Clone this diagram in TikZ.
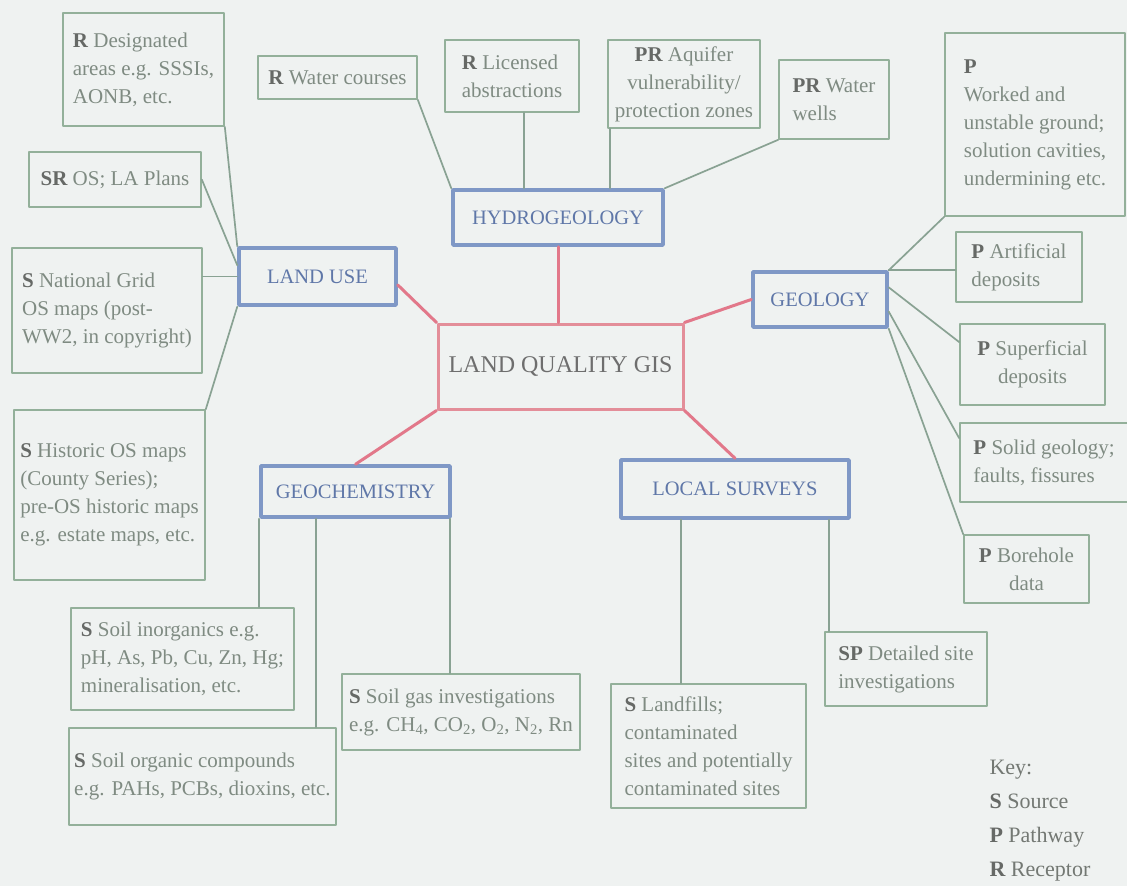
\documentclass[tikz,border=0pt]{standalone}
\usepackage{fontspec}
\setmainfont{Liberation Serif}

\definecolor{bgcol}{HTML}{EFF2F1}
\definecolor{leafline}{HTML}{93B09A}
\definecolor{twigcol}{HTML}{89A293}
\definecolor{leaftext}{HTML}{7F8B82}
\definecolor{boldtext}{HTML}{666966}
\definecolor{hubline}{HTML}{7F98C6}
\definecolor{hubtext}{HTML}{5F77A8}
\definecolor{trunkcol}{HTML}{E2788A}
\definecolor{coreline}{HTML}{E38E99}
\definecolor{coretext}{HTML}{6E6E6E}
\definecolor{keycol}{HTML}{737873}

\newcommand{\kind}[1]{\textbf{\color{boldtext}#1}}

\begin{document}
\begin{tikzpicture}[x=1pt, y=-1pt, line cap=round, line join=round,
  leaf/.style={draw=leafline, line width=1.6pt, fill=bgcol, text=leaftext,
    align=left, inner sep=4pt, font=\fontsize{21}{28}\selectfont},
  hub/.style={draw=hubline, line width=3.5pt, fill=bgcol, text=hubtext,
    font=\fontsize{20.5}{24}\selectfont},
  core/.style={draw=coreline, line width=3pt, fill=bgcol, text=coretext,
    font=\fontsize{24}{28}\selectfont},
  twig/.style={draw=twigcol, line width=1.7pt},
  trunk/.style={draw=trunkcol, line width=3pt}]

% === Page ===
\fill[bgcol] (0,0) rectangle (1127,886);
\useasboundingbox (0,0) rectangle (1127,886);

% === Centre and hubs ===
\node[core, minimum width=245pt, minimum height=85pt] (lq) at (560.5,366.5) {LAND QUALITY GIS};
\node[hub, minimum width=210pt, minimum height=55pt] (hydro) at (558,217.5) {HYDROGEOLOGY};
\node[hub, minimum width=157pt, minimum height=57pt] (landuse) at (317.5,276.5) {LAND USE};
\node[hub, minimum width=134pt, minimum height=55pt] (geology) at (820,299.5) {GEOLOGY};
\node[hub, minimum width=189pt, minimum height=51pt] (geochem) at (355.5,491.5) {GEOCHEMISTRY};
\node[hub, minimum width=228pt, minimum height=58pt] (local) at (735,489) {LOCAL SURVEYS};

% === Land use leaves ===
\node[leaf, minimum width=161pt, minimum height=113pt] (desig) at (143.5,69.5)
  {\kind{R} Designated\\areas e.g. SSSIs,\\AONB, etc.};
\node[leaf, minimum width=172pt, minimum height=55pt] (sr) at (115,179.5) {\kind{SR} OS; LA Plans};
\node[leaf, minimum width=190pt, minimum height=125pt] (natgrid) at (107,310.5)
  {\kind{S} National Grid\\OS maps (post-\\WW2, in copyright)};
\node[leaf, minimum width=191pt, minimum height=170pt] (historic) at (109.5,495)
  {\kind{S} Historic OS maps\\(County Series);\\pre-OS historic maps\\e.g. estate maps, etc.};

% === Hydrogeology leaves ===
\node[leaf, minimum width=159pt, minimum height=43pt] (water) at (337.5,77.5) {\kind{R} Water courses};
\node[leaf, minimum width=134pt, minimum height=72pt] (licensed) at (512,76) {\kind{R} Licensed\\abstractions};
\node[leaf, align=center, minimum width=152pt, minimum height=88pt] (aquifer) at (684,84)
  {\kind{PR} Aquifer\\vulnerability/\\protection zones};
\node[leaf, minimum width=110pt, minimum height=79pt] (wells) at (834,99.5) {\kind{PR} Water\\wells};

% === Geology leaves ===
\node[leaf, minimum width=180pt, minimum height=183pt] (worked) at (1035,124.5)
  {\kind{P}\\Worked and\\unstable ground;\\solution cavities,\\undermining etc.};
\node[leaf, minimum width=126pt, minimum height=70pt] (artificial) at (1019,267) {\kind{P} Artificial\\deposits};
\node[leaf, align=center, minimum width=145pt, minimum height=81pt] (superficial) at (1032.5,364.5)
  {\kind{P} Superficial\\deposits};
\node[leaf, minimum width=168pt, minimum height=79pt] (solid) at (1044,462.5) {\kind{P} Solid geology;\\faults, fissures};
\node[leaf, align=center, minimum width=125pt, minimum height=68pt] (borehole) at (1026.5,569)
  {\kind{P} Borehole\\data};

% === Geochemistry leaves ===
\node[leaf, minimum width=223pt, minimum height=102pt] (inorganics) at (182.5,659)
  {\kind{S} Soil inorganics e.g.\\pH, As, Pb, Cu, Zn, Hg;\\mineralisation, etc.};
\node[leaf, minimum width=267pt, minimum height=97pt] (organic) at (202.5,776.5)
  {\kind{S} Soil organic compounds\\e.g. PAHs, PCBs, dioxins, etc.};
\node[leaf, minimum width=238pt, minimum height=76pt] (soilgas) at (461,712)
  {\kind{S} Soil gas investigations\\e.g. CH\textsubscript{4}, CO\textsubscript{2}, O\textsubscript{2}, N\textsubscript{2}, Rn};

% === Local survey leaves ===
\node[leaf, minimum width=195pt, minimum height=124pt] (landfills) at (708.5,746)
  {\kind{S} Landfills;\\contaminated\\sites and potentially\\contaminated sites};
\node[leaf, minimum width=162pt, minimum height=74pt] (sp) at (906,669) {\kind{SP} Detailed site\\investigations};

% === Key ===
\node[anchor=west, align=left, text=keycol, font=\fontsize{22}{34}\selectfont] (key) at (986,821)
  {Key:\\\kind{S} Source\\\kind{P} Pathway\\\kind{R} Receptor};

% === Twigs ===
\draw[twig] (desig.south east) -- (landuse.north west);
\draw[twig] (sr.east) -- (landuse.172);
\draw[twig] (natgrid.east |- landuse.west) -- (landuse.west);
\draw[twig] (historic.north east) -- (landuse.south west);
\draw[twig] (water.south east) -- (hydro.north west);
\draw[twig] ([xshift=12pt]licensed.south) -- ([xshift=12pt]licensed.south |- hydro.north);
\draw[twig] ([xshift=3pt]aquifer.south west) -- ([xshift=3pt]aquifer.south west |- hydro.north);
\draw[twig] (wells.south west) -- (hydro.north east);
\draw[twig] (geology.north east) -- (worked.south west);
\draw[twig] (geology.north east) -- (geology.north east -| artificial.west);
\draw[twig] (geology.10) -- (superficial.163);
\draw[twig] (geology.-10) -- (solid.164);
\draw[twig] (geology.south east) -- (borehole.north west);
\draw[twig] (geochem.south west) -- (geochem.south west |- inorganics.north);
\draw[twig] ([xshift=57pt]geochem.south west) -- ([xshift=57pt]geochem.south west |- organic.north);
\draw[twig] ([xshift=-2pt]geochem.south east) -- ([xshift=-2pt]geochem.south east |- soilgas.north);
\draw[twig] ([xshift=62pt]local.south west) -- ([xshift=62pt]local.south west |- landfills.north);
\draw[twig] ([xshift=-22pt]local.south east) -- ([xshift=-22pt]local.south east |- sp.north);

% === Trunks ===
\draw[trunk] (hydro.south) -- (hydro.south |- lq.north);
\draw[trunk] (landuse.-6) -- (lq.north west);
\draw[trunk] (geology.west) -- (lq.north east);
\draw[trunk] (lq.south west) -- (geochem.north);
\draw[trunk] (lq.south east) -- (local.north);
\end{tikzpicture}
\end{document}
